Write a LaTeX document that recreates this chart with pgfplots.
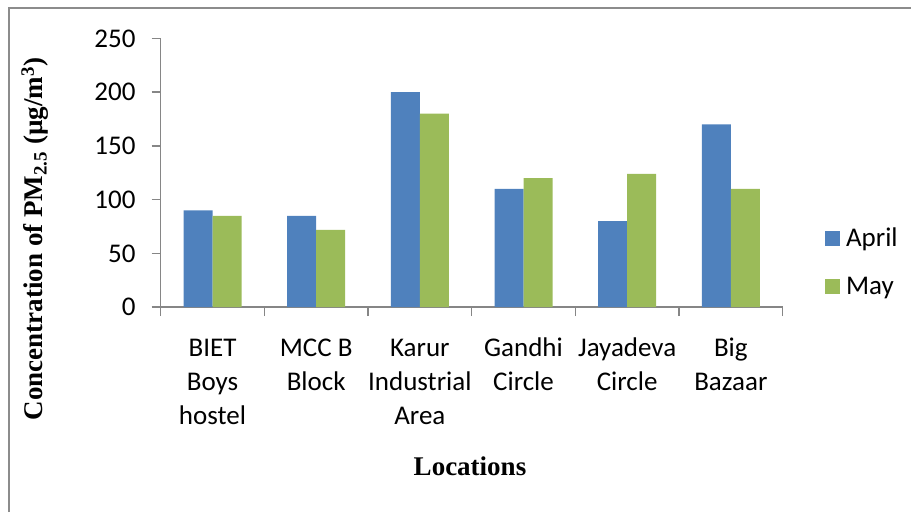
\documentclass[border=0pt]{standalone}
\usepackage{fontspec}
\setmainfont{Carlito}
\newfontfamily\timesf{Liberation Serif}
\usepackage{pgfplots}
\pgfplotsset{compat=1.18}
\definecolor{aprilc}{HTML}{4F81BD}
\definecolor{mayc}{HTML}{9BBB59}
\definecolor{axgray}{HTML}{868686}
\definecolor{framegray}{HTML}{8C8C8C}
\begin{document}
\begin{tikzpicture}[x=1pt,y=1pt]
\useasboundingbox (0,0) rectangle (911,512);
\draw[framegray, line width=2pt] (8.5,0) -- (8.5,503.5) -- (911,503.5);
\begin{axis}[
  at={(155,190.6)}, anchor=south west,
  scale only axis, width=622pt, height=268.7pt,
  ybar=0pt, bar width=29pt,
  xmin=-0.5, xmax=5.5, ymin=0, ymax=250,
  axis x line*=bottom, axis y line*=left,
  axis line style={axgray, line width=1.5pt, -},
  xtick={0,1,2,3,4,5},
  xticklabels={{\strut BIET\\Boys\\hostel},{\strut MCC B\\Block},{\strut Karur\\Industrial\\Area},{\strut Gandhi\\Circle},{\strut Jayadeva\\Circle},{\strut Big\\Bazaar}},
  major x tick style={draw=none},
  minor xtick={-0.5,0.5,1.5,2.5,3.5,4.5,5.5},
  minor tick length=9pt,
  minor x tick style={axgray, line width=1.5pt},
  ytick={0,50,100,150,200,250},
  major tick length=9pt,
  tick align=outside,
  major y tick style={axgray, line width=1.5pt},
  /pgf/number format/assume math mode=true,
  tick label style={font=\fontsize{27}{34}\selectfont},
  xticklabel style={align=center, anchor=north, inner sep=0pt, yshift=-16pt},
  yticklabel style={anchor=east, inner sep=0pt, xshift=-16pt},
  legend style={at={(1.063,0.168)}, anchor=west, draw=none, fill=none,
    font=\fontsize{27}{33}\selectfont, row sep=25pt,
    /tikz/every odd column/.append style={column sep=4pt}},
  legend cell align=left,
  legend image code/.code={\fill[#1,draw=none] (0pt,-7.5pt) rectangle (15pt,7.5pt);},
  clip=false,
]
\addplot[fill=aprilc, draw=none] coordinates {(0,90) (1,85) (2,200) (3,110) (4,80) (5,170)};
\addplot[fill=mayc, draw=none] coordinates {(0,85) (1,72) (2,180) (3,120) (4,124) (5,110)};
\legend{April, May}
\end{axis}
\node[rotate=90, font=\timesf\bfseries\fontsize{27}{33}\selectfont, inner sep=0pt] at (35,273) {Concentration of PM\textsubscript{2.5} (µg/m\textsuperscript{3})};
\node[font=\timesf\bfseries\fontsize{27}{33}\selectfont, inner sep=0pt] at (470,46) {Locations};
\end{tikzpicture}
\end{document}
